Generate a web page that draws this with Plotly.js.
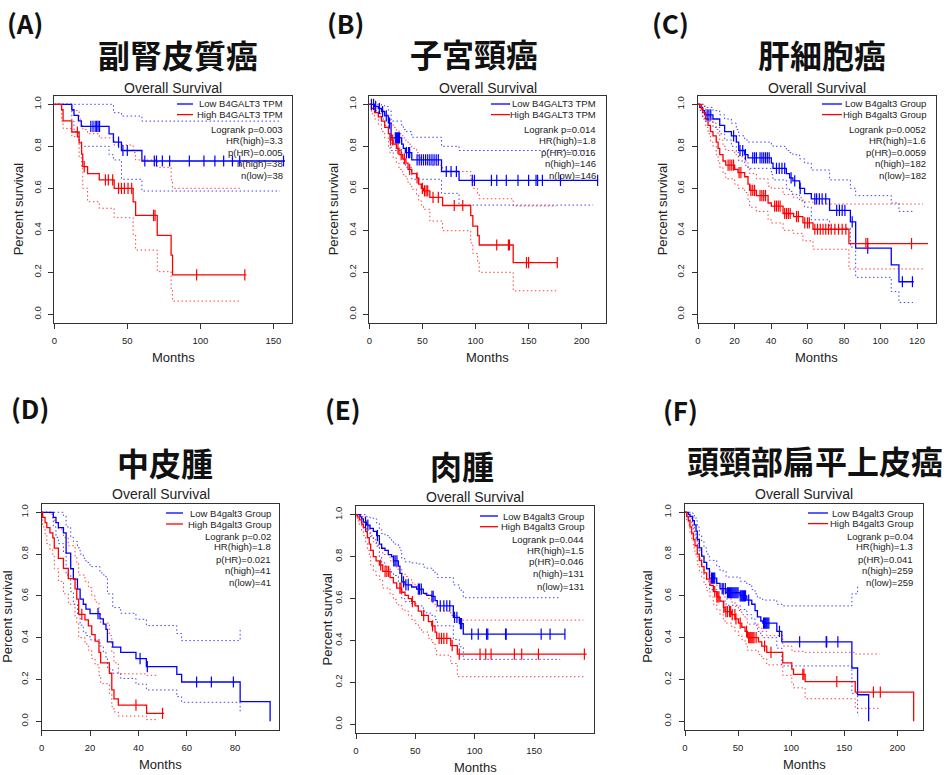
<!DOCTYPE html>
<html><head><meta charset="utf-8">
<script src="https://cdn.plot.ly/plotly-3.0.1.min.js"></script>
<style>html,body{margin:0;padding:0;background:#fff}#chart{width:948px;height:775px}</style>
</head><body><div id="chart"></div>
<script>
// ---------------- DATA ----------------
const Y_ticks = [0, 0.2, 0.4, 0.6, 0.8, 1.0];
const Y_tickText = ['0.0', '0.2', '0.4', '0.6', '0.8', '1.0'];

// (A) 副腎皮質癌
const A_title = '副腎皮質癌';
const A_xticks = [0, 50, 100, 150];
const A_legend = ['Low B4GALT3 TPM', 'High B4GALT3 TPM', 'Logrank p=0.003', 'HR(high)=3.3', 'p(HR)=0.005', 'n(high)=38', 'n(low)=38'];
const A_lowT = [0, 12, 13.5, 16.5, 18.5, 37.5, 40.5, 46, 60, 158];
const A_lowS = [1, 0.974, 0.947, 0.921, 0.895, 0.859, 0.82, 0.78, 0.73, 0.73];
const A_lowUp = [1, 1, 1, 1, 1, 1, 0.96, 0.944, 0.92];
const A_lowLo = [1, 0.92, 0.87, 0.83, 0.80, 0.76, 0.735, 0.643, 0.587];
const A_lowCens = [25, 26.5, 28, 29, 30, 31, 44, 47, 50, 62, 68.5, 70, 74, 79, 92.5, 102.5, 110, 116, 122, 127, 157];
const A_highT = [0, 5, 6, 12, 17, 18.7, 19.5, 22.8, 30.8, 41, 54, 55.7, 70.5, 80, 81, 131.5];
const A_highS = [1, 0.974, 0.921, 0.868, 0.816, 0.763, 0.703, 0.67, 0.64, 0.60, 0.535, 0.471, 0.376, 0.282, 0.188, 0.188];
const A_highUp = [1, 1, 1, 0.97, 0.93, 0.90, 0.88, 0.86, 0.84, 0.806, 0.77, 0.735, 0.70, 0.64, 0.60];
const A_highLo = [1, 0.92, 0.885, 0.846, 0.75, 0.695, 0.60, 0.536, 0.505, 0.46, 0.38, 0.306, 0.203, 0.12, 0.063];
const A_highCens = [15.8, 20.5, 35, 37, 40, 44, 46, 48, 50.5, 53, 68, 69, 97.5, 130.5];
const A_ciEnd = [154.6, 128.3];

// (B) 子宮頸癌
const B_title = '子宮頸癌';
const B_xticks = [0, 50, 100, 150, 200];
const B_legend = ['Low B4GALT3 TPM', 'High B4GALT3 TPM', 'Logrank p=0.014', 'HR(high)=1.8', 'p(HR)=0.016', 'n(high)=146', 'n(low)=146'];
const B_lowT = [0, 5, 8.5, 11.5, 14.5, 18, 20.5, 30.5, 32, 34, 40, 68, 84.5, 215.5];
const B_lowS = [1, 0.99, 0.98, 0.965, 0.945, 0.91, 0.84, 0.81, 0.79, 0.77, 0.735, 0.68, 0.638, 0.638];
const B_lowUp = [1, 1, 1, 0.995, 0.99, 0.97, 0.92, 0.895, 0.88, 0.87, 0.843, 0.80, 0.78];
const B_lowLo = [1, 0.97, 0.955, 0.93, 0.90, 0.86, 0.78, 0.74, 0.72, 0.70, 0.643, 0.576, 0.52];
const B_lowCens = [2, 4, 6, 9.5, 12.5, 16, 19, 24.5, 25.5, 26.5, 27.5, 28.5, 35, 37, 38, 45, 47, 49, 51, 53, 55, 57, 59, 61, 63, 65, 72.5, 77, 82, 97, 99, 115, 120, 129, 140, 150, 157, 158.5, 163, 180, 215];
const B_highT = [0, 2, 5, 8.5, 11.5, 14.5, 18, 19.5, 22.5, 25.5, 28, 31.5, 34.5, 36.5, 40, 44.5, 46.5, 49, 51, 57, 69, 95.5, 97.5, 102, 103.5, 135.5, 177];
const B_highS = [1, 0.98, 0.96, 0.94, 0.92, 0.89, 0.86, 0.83, 0.81, 0.79, 0.76, 0.74, 0.72, 0.69, 0.67, 0.65, 0.62, 0.60, 0.588, 0.557, 0.518, 0.47, 0.42, 0.375, 0.33, 0.246, 0.246];
const B_highUp = [1, 1, 0.99, 0.98, 0.97, 0.95, 0.93, 0.91, 0.89, 0.875, 0.86, 0.84, 0.825, 0.81, 0.79, 0.77, 0.745, 0.73, 0.72, 0.71, 0.68, 0.645, 0.60, 0.575, 0.55, 0.516];
const B_highLo = [1, 0.955, 0.93, 0.905, 0.87, 0.84, 0.80, 0.77, 0.745, 0.72, 0.69, 0.665, 0.645, 0.62, 0.595, 0.57, 0.54, 0.52, 0.50, 0.444, 0.398, 0.34, 0.29, 0.25, 0.20, 0.112];
const B_highCens = [20, 22, 27, 30, 33, 38, 45, 50, 52, 53.5, 55, 60, 65, 80, 88, 120, 131, 132, 148, 150, 177];
const B_ciEnd = [210.7, 176];

// (C) 肝細胞癌
const C_title = '肝細胞癌';
const C_xticks = [0, 20, 40, 60, 80, 100, 120];
const C_legend = ['Low B4galt3 Group', 'High B4galt3 Group', 'Logrank p=0.0052', 'HR(high)=1.6', 'p(HR)=0.0059', 'n(high)=182', 'n(low)=182'];
const C_lowT = [0, 1, 2.5, 3.7, 8.2, 11.9, 14.6, 18.3, 21, 22.3, 25.6, 27.4, 40.2, 41.1, 48.4, 50.2, 52, 55.7, 58.4, 62.1, 72.1, 83.5, 86.4, 105.9, 110.1, 118.2];
const C_lowS = [1, 0.985, 0.97, 0.95, 0.93, 0.90, 0.87, 0.85, 0.82, 0.78, 0.76, 0.745, 0.72, 0.695, 0.67, 0.65, 0.635, 0.60, 0.575, 0.55, 0.495, 0.44, 0.315, 0.235, 0.155, 0.155];
const C_lowUp = [1, 1, 1, 0.985, 0.97, 0.95, 0.93, 0.91, 0.88, 0.85, 0.83, 0.82, 0.81, 0.80, 0.78, 0.77, 0.76, 0.74, 0.72, 0.687, 0.64, 0.60, 0.565, 0.53, 0.49];
const C_lowLo = [1, 0.97, 0.94, 0.92, 0.89, 0.86, 0.83, 0.80, 0.77, 0.73, 0.71, 0.695, 0.665, 0.64, 0.60, 0.585, 0.57, 0.54, 0.51, 0.45, 0.41, 0.32, 0.176, 0.108, 0.056];
const C_lowCens = [5, 6, 7, 19.5, 23, 24.5, 26, 30, 31, 32, 34, 35, 36, 37, 38, 39, 43, 44.5, 46, 47.5, 51, 53, 56, 64, 65, 66.5, 68, 70, 76, 77.5, 79, 80.5, 84.5, 93, 112, 117.5];
const C_highT = [0, 1.8, 2.7, 4.2, 5.5, 6.8, 8.2, 10, 11, 11.9, 13.7, 15.2, 20.1, 21.9, 25.6, 27.4, 28.3, 32, 38.4, 40.2, 46.6, 52.4, 57.5, 63, 82.7, 126];
const C_highS = [1, 0.98, 0.96, 0.93, 0.90, 0.87, 0.85, 0.82, 0.79, 0.76, 0.73, 0.71, 0.69, 0.675, 0.655, 0.62, 0.59, 0.565, 0.53, 0.515, 0.48, 0.465, 0.435, 0.405, 0.337, 0.337];
const C_highUp = [1, 1, 0.99, 0.97, 0.95, 0.93, 0.91, 0.88, 0.86, 0.83, 0.80, 0.78, 0.76, 0.75, 0.73, 0.70, 0.67, 0.645, 0.61, 0.60, 0.57, 0.555, 0.535, 0.525, 0.525];
const C_highLo = [1, 0.96, 0.93, 0.89, 0.86, 0.82, 0.80, 0.76, 0.73, 0.70, 0.67, 0.645, 0.62, 0.60, 0.58, 0.54, 0.51, 0.49, 0.45, 0.435, 0.40, 0.385, 0.35, 0.31, 0.216];
const C_highCens = [16.5, 17.5, 18.5, 19.5, 22.5, 23.5, 29, 30, 31, 34, 35, 36, 37, 42, 43, 44, 45, 47.5, 48.5, 49.5, 50.5, 54, 55, 58.5, 60, 61, 64, 65.5, 67, 68.5, 70, 71.5, 73, 75, 77, 79, 81, 92, 93, 117];
const C_ciEnd = [117.8, 123.3];

// (D) 中皮腫
const D_title = '中皮腫';
const D_xticks = [0, 20, 40, 60, 80];
const D_legend = ['Low B4galt3 Group', 'High B4galt3 Group', 'Logrank p=0.02', 'HR(high)=1.8', 'p(HR)=0.021', 'n(high)=41', 'n(low)=41'];
const D_lowT = [0, 4.8, 5.9, 6.9, 9, 10.1, 12, 13.1, 14.8, 15.9, 17.2, 18.3, 20, 24.1, 25.5, 26.6, 27.2, 29.4, 32.7, 39, 43.3, 55.9, 57.9, 82.1, 94.5];
const D_lowS = [1, 0.976, 0.951, 0.927, 0.902, 0.805, 0.73, 0.68, 0.632, 0.585, 0.56, 0.537, 0.515, 0.49, 0.465, 0.44, 0.38, 0.355, 0.33, 0.30, 0.262, 0.225, 0.188, 0.094, 0];
const D_lowUp = [1, 1, 1, 1, 0.985, 0.93, 0.88, 0.86, 0.83, 0.80, 0.78, 0.76, 0.74, 0.71, 0.70, 0.69, 0.61, 0.544, 0.517, 0.488, 0.458, 0.42, 0.386, 0.45];
const D_lowLo = [1, 0.93, 0.88, 0.85, 0.81, 0.70, 0.62, 0.56, 0.51, 0.46, 0.43, 0.41, 0.39, 0.36, 0.33, 0.30, 0.25, 0.23, 0.205, 0.178, 0.15, 0.118, 0.091, 0.038];
const D_lowCens = [23.3, 40.7, 43.7, 64.1, 70.2, 79.3];
const D_highT = [0, 0.4, 1.4, 2.1, 3.4, 4.6, 5.2, 6.9, 9, 11, 13.8, 14.5, 15.3, 17.9, 19.3, 20.7, 22.1, 23.7, 24.4, 28, 29, 29.9, 31.7, 43.4, 50.6];
const D_highS = [1, 0.976, 0.951, 0.927, 0.902, 0.878, 0.829, 0.78, 0.732, 0.683, 0.634, 0.585, 0.512, 0.485, 0.457, 0.415, 0.384, 0.33, 0.28, 0.23, 0.15, 0.107, 0.077, 0.038, 0.038];
const D_highUp = [1, 1, 1, 1, 0.99, 0.97, 0.95, 0.92, 0.88, 0.84, 0.79, 0.76, 0.70, 0.67, 0.64, 0.60, 0.57, 0.52, 0.47, 0.41, 0.33, 0.28, 0.227, 0.22];
const D_highLo = [1, 0.93, 0.89, 0.85, 0.82, 0.79, 0.73, 0.67, 0.61, 0.56, 0.50, 0.47, 0.40, 0.37, 0.34, 0.30, 0.27, 0.22, 0.18, 0.13, 0.07, 0.045, 0.025, 0.008];
const D_highCens = [16.6, 39, 50];
const D_ciEnd = [82.1, 48];

// (E) 肉腫
const E_title = '肉腫';
const E_xticks = [0, 50, 100, 150];
const E_legend = ['Low B4galt3 Group', 'High B4galt3 Group', 'Logrank p=0.044', 'HR(high)=1.5', 'p(HR)=0.046', 'n(high)=131', 'n(low)=131'];
const E_lowT = [0, 3.4, 4.8, 6.2, 9, 11.8, 14.6, 17.4, 19.7, 21.6, 24.4, 27.2, 30, 31.5, 35.7, 37, 38.5, 41.3, 46.9, 51.1, 56.7, 59.6, 63.8, 66.6, 68.5, 82, 87.1, 90.4, 176];
const E_lowS = [1, 0.99, 0.98, 0.965, 0.95, 0.935, 0.92, 0.90, 0.86, 0.84, 0.83, 0.81, 0.80, 0.78, 0.755, 0.72, 0.68, 0.665, 0.655, 0.645, 0.625, 0.615, 0.61, 0.59, 0.565, 0.51, 0.48, 0.43, 0.43];
const E_lowUp = [1, 1, 1, 1, 0.99, 0.985, 0.98, 0.96, 0.93, 0.91, 0.90, 0.89, 0.875, 0.86, 0.845, 0.83, 0.79, 0.775, 0.77, 0.765, 0.75, 0.745, 0.735, 0.72, 0.70, 0.665, 0.64, 0.604];
const E_lowLo = [1, 0.97, 0.955, 0.935, 0.915, 0.895, 0.88, 0.85, 0.80, 0.77, 0.755, 0.74, 0.725, 0.71, 0.68, 0.65, 0.60, 0.585, 0.575, 0.565, 0.54, 0.53, 0.52, 0.50, 0.47, 0.405, 0.37, 0.31];
const E_lowCens = [8, 10, 18, 31.8, 33, 34.5, 40, 42, 44, 52.5, 53.5, 55, 64, 65, 71, 74, 76.5, 79, 83, 85, 88, 89, 97.5, 103, 110, 111, 126, 126.5, 156, 163.5, 176];
const E_highT = [0, 1.1, 2.8, 4.8, 6.2, 8.1, 9.6, 11.2, 12.4, 14.6, 16.9, 19.7, 22.5, 28.7, 31.5, 34.3, 38.5, 41.3, 44.1, 46.9, 49.7, 52.5, 55.3, 61, 63.8, 66.6, 68, 79.8, 85.4, 194.4];
const E_highS = [1, 0.99, 0.975, 0.955, 0.94, 0.92, 0.89, 0.86, 0.83, 0.80, 0.78, 0.76, 0.73, 0.70, 0.675, 0.65, 0.63, 0.615, 0.60, 0.585, 0.565, 0.54, 0.52, 0.49, 0.47, 0.44, 0.41, 0.375, 0.335, 0.335];
const E_highUp = [1, 1, 1, 0.99, 0.985, 0.97, 0.95, 0.93, 0.90, 0.87, 0.855, 0.84, 0.81, 0.78, 0.76, 0.74, 0.72, 0.705, 0.69, 0.675, 0.66, 0.64, 0.62, 0.60, 0.58, 0.565, 0.54, 0.52, 0.497];
const E_highLo = [1, 0.97, 0.95, 0.92, 0.90, 0.87, 0.83, 0.80, 0.76, 0.73, 0.71, 0.69, 0.65, 0.62, 0.595, 0.57, 0.55, 0.54, 0.52, 0.50, 0.48, 0.46, 0.44, 0.41, 0.39, 0.36, 0.33, 0.29, 0.227];
const E_highCens = [20.8, 24.5, 26, 27.5, 37, 38, 47.5, 57, 64.5, 70, 72, 74, 76.5, 81, 87, 104.5, 109.3, 113.8, 133.4, 139.6, 153.7, 192.4];
const E_ciEnd = [172, 191.6];

// (F) 頭頸部扁平上皮癌
const F_title = '頭頸部扁平上皮癌';
const F_xticks = [0, 50, 100, 150, 200];
const F_legend = ['Low B4galt3 Group', 'High B4galt3 Group', 'Logrank p=0.04', 'HR(high)=1.3', 'p(HR)=0.041', 'n(high)=259', 'n(low)=259'];
const F_lowT = [0, 3.1, 4.7, 7.2, 8.8, 10.4, 11.6, 13.5, 15.7, 17.9, 20.4, 23, 29.9, 33, 38.7, 51.9, 58.2, 62.9, 66, 68.2, 71.4, 73.3, 86.5, 91.2, 157.2, 162.6, 173];
const F_lowS = [1, 0.99, 0.98, 0.96, 0.94, 0.91, 0.87, 0.83, 0.79, 0.76, 0.73, 0.685, 0.66, 0.635, 0.615, 0.60, 0.58, 0.56, 0.53, 0.50, 0.48, 0.47, 0.43, 0.38, 0.255, 0.127, 0];
const F_lowUp = [1, 1, 1, 0.995, 0.98, 0.96, 0.93, 0.89, 0.86, 0.83, 0.80, 0.77, 0.74, 0.72, 0.69, 0.67, 0.655, 0.63, 0.61, 0.59, 0.585, 0.58, 0.56, 0.552, 0.61, 0.652];
const F_lowLo = [1, 0.975, 0.96, 0.93, 0.905, 0.87, 0.83, 0.78, 0.74, 0.70, 0.67, 0.63, 0.60, 0.575, 0.555, 0.535, 0.51, 0.49, 0.46, 0.43, 0.41, 0.40, 0.35, 0.265, 0.134, 0.03];
const F_lowCens = [25, 26, 27, 28, 35, 36, 38, 40, 41, 42, 43, 44, 45, 46, 47, 48, 49, 50, 52, 53, 54, 55, 56, 57, 60, 74, 75, 76, 77, 78, 79, 89, 108, 133, 133.5, 144];
const F_highT = [0, 1.6, 3.1, 4.7, 6.3, 7.9, 9.4, 11.6, 13.5, 15.7, 17.9, 20.4, 23.6, 26.7, 29.9, 33, 36.2, 37.7, 44, 47.2, 50.3, 53.5, 56.6, 58.8, 69.2, 72.3, 77, 92.1, 100.6, 102.2, 113.2, 160.4, 215.4];
const F_highS = [1, 0.98, 0.96, 0.93, 0.90, 0.87, 0.84, 0.80, 0.77, 0.74, 0.71, 0.68, 0.65, 0.62, 0.595, 0.575, 0.545, 0.525, 0.51, 0.49, 0.47, 0.45, 0.43, 0.40, 0.38, 0.36, 0.33, 0.28, 0.25, 0.225, 0.19, 0.14, 0];
const F_highUp = [1, 0.995, 0.99, 0.97, 0.94, 0.91, 0.88, 0.85, 0.82, 0.79, 0.76, 0.73, 0.70, 0.67, 0.65, 0.63, 0.60, 0.585, 0.57, 0.55, 0.53, 0.51, 0.49, 0.465, 0.45, 0.43, 0.41, 0.36, 0.34, 0.335, 0.33, 0.322];
const F_highLo = [1, 0.96, 0.94, 0.90, 0.865, 0.83, 0.80, 0.75, 0.72, 0.69, 0.655, 0.625, 0.595, 0.56, 0.535, 0.51, 0.485, 0.47, 0.45, 0.43, 0.41, 0.39, 0.37, 0.34, 0.32, 0.30, 0.27, 0.22, 0.185, 0.16, 0.108, 0.062];
const F_highCens = [28, 30, 31, 32, 36.5, 38.5, 40, 42, 43, 44.5, 47, 48, 52, 58, 60, 61, 62, 63, 64, 65, 67, 75, 81, 111, 112, 143, 177.5, 184];
const F_ciEnd = [163.5, 183.3];

// ---------------- LAYOUT GEOMETRY (pixels) ----------------
const W = 948, H = 775;
const PX = x => x / W, PY = y => 1 - y / H;
const BLUE = '#0000FF', RED = '#FF0000';
const FONT = 'Liberation Sans, Arial, sans-serif';
const CJK = 'Noto Sans CJK JP, Noto Sans CJK SC, sans-serif';
const ROWS_TOP = [104, 114.6, 129, 140.5, 152, 163.5, 175];

const panels = [
  {letter:'(A)', title:A_title, xticks:A_xticks, legend:A_legend,
   low:{T:A_lowT,S:A_lowS,Up:A_lowUp,Lo:A_lowLo,C:A_lowCens,end:A_ciEnd[0]},
   high:{T:A_highT,S:A_highS,Up:A_highUp,Lo:A_highLo,C:A_highCens,end:A_ciEnd[1]},
   g:{l:54.3,r:292.3,x0:54.3,ppm:1.46,y1:104.3,y0:314.3, lx:25,ly:23, tx:178,ty:54, osy:88, my:357, psx:18,
      legR:285, legL:[177,193], rows:ROWS_TOP}},
  {letter:'(B)', title:B_title, xticks:B_xticks, legend:B_legend,
   low:{T:B_lowT,S:B_lowS,Up:B_lowUp,Lo:B_lowLo,C:B_lowCens,end:B_ciEnd[0]},
   high:{T:B_highT,S:B_highS,Up:B_highUp,Lo:B_highLo,C:B_highCens,end:B_ciEnd[1]},
   g:{l:369.3,r:606,x0:369.3,ppm:1.062,y1:104.3,y0:314.3, lx:345,ly:23, tx:474,ty:53, osy:88, my:357, psx:333,
      legR:598, legL:[491,510], rows:ROWS_TOP}},
  {letter:'(C)', title:C_title, xticks:C_xticks, legend:C_legend,
   low:{T:C_lowT,S:C_lowS,Up:C_lowUp,Lo:C_lowLo,C:C_lowCens,end:C_ciEnd[0]},
   high:{T:C_highT,S:C_highS,Up:C_highUp,Lo:C_highLo,C:C_highCens,end:C_ciEnd[1]},
   g:{l:698,r:935.7,x0:698,ppm:1.825,y1:104.3,y0:314.3, lx:670,ly:23, tx:822,ty:54, osy:88, my:357, psx:662,
      legR:928, legL:[822,842], rows:ROWS_TOP}},
  {letter:'(D)', title:D_title, xticks:D_xticks, legend:D_legend,
   low:{T:D_lowT,S:D_lowS,Up:D_lowUp,Lo:D_lowLo,C:D_lowCens,end:D_ciEnd[0]},
   high:{T:D_highT,S:D_highS,Up:D_highUp,Lo:D_highLo,C:D_highCens,end:D_ciEnd[1]},
   g:{l:41.7,r:279.3,x0:41.7,ppm:2.417,y1:512.3,y0:721.3, lx:30,ly:407, tx:165,ty:462, osy:494, my:764, psx:8,
      legR:273, legL:[166,183], rows:[513,524,536,546.7,559,570,582.3]}},
  {letter:'(E)', title:E_title, xticks:E_xticks, legend:E_legend,
   low:{T:E_lowT,S:E_lowS,Up:E_lowUp,Lo:E_lowLo,C:E_lowCens,end:E_ciEnd[0]},
   high:{T:E_highT,S:E_highS,Up:E_highUp,Lo:E_highLo,C:E_highCens,end:E_ciEnd[1]},
   g:{l:356,r:594,x0:356,ppm:1.187,y1:514.7,y0:724.3, lx:343,ly:408, tx:462,ty:465, osy:497, my:767, psx:327,
      legR:586, legL:[480,498], rows:[516,526.7,539.3,550,561,573.3,586]}},
  {letter:'(F)', title:F_title, xticks:F_xticks, legend:F_legend,
   low:{T:F_lowT,S:F_lowS,Up:F_lowUp,Lo:F_lowLo,C:F_lowCens,end:F_ciEnd[0]},
   high:{T:F_highT,S:F_highS,Up:F_highUp,Lo:F_highLo,C:F_highCens,end:F_ciEnd[1]},
   g:{l:685,r:923.3,x0:685,ppm:1.0615,y1:512.3,y0:721.3, lx:680,ly:409, tx:815,ty:460, osy:494, my:764, psx:648,
      legR:915, legL:[808,828], rows:[513,523.6,536,546.7,559,570,582.3]}}
];

function stepAt(T, S, t) {
  let v = S[0];
  for (let i = 0; i < T.length; i++) { if (T[i] <= t) v = S[i]; else break; }
  return v;
}

const ciTraces = [], curveTraces = [], censTraces = [];
const layout = {
  width: W, height: H, margin: {l:0, r:0, t:0, b:0},
  paper_bgcolor: '#fff', plot_bgcolor: '#fff', showlegend: false, hovermode: false,
  font: {family: FONT, color: '#222'}, shapes: [], annotations: []
};

panels.forEach((p, i) => {
  const k = i + 1, sfx = k === 1 ? '' : String(k);
  const xa = 'x' + sfx, ya = 'y' + sfx;
  const g = p.g;
  const yr = g.y0 - g.y1;
  const top = g.y1 - 0.04 * yr, bot = g.y0 + 0.04 * yr;
  layout['xaxis' + sfx] = {
    domain: [PX(g.l), PX(g.r)], range: [(g.l - g.x0) / g.ppm, (g.r - g.x0) / g.ppm],
    anchor: ya, tickmode: 'array', tickvals: p.xticks, ticks: 'outside', ticklen: 5, tickwidth: 1,
    tickcolor: '#333', showline: true, mirror: true, linecolor: '#333', linewidth: 1,
    showgrid: false, zeroline: false, tickfont: {size: 9.5, color: '#222', family: FONT},
    ticklabelstandoff: 4, fixedrange: true
  };
  layout['yaxis' + sfx] = {
    domain: [PY(bot), PY(top)], range: [-0.04, 1.04], anchor: xa,
    tickmode: 'array', tickvals: Y_ticks, ticktext: Y_tickText, tickangle: -90,
    ticks: 'outside', ticklen: 5, tickwidth: 1, tickcolor: '#333',
    showline: true, mirror: true, linecolor: '#333', linewidth: 1,
    showgrid: false, zeroline: false, tickfont: {size: 9.5, color: '#222', family: FONT},
    ticklabelstandoff: 4, fixedrange: true
  };

  [[p.low, BLUE], [p.high, RED]].forEach(([d, col]) => {
    const ciX = d.T.slice(0, d.T.length - 1).concat([d.end]);
    [d.Up, d.Lo].forEach(arr => {
      ciTraces.push({type:'scatter', mode:'lines', xaxis:xa, yaxis:ya, x: ciX,
        y: arr.concat([arr[arr.length - 1]]), line:{shape:'hv', color: col, width: 1, dash: '1.5px,2.5px'},
        opacity: 0.75});
    });
    curveTraces.push({type:'scatter', mode:'lines', xaxis:xa, yaxis:ya, x: d.T, y: d.S,
      line:{shape:'hv', color: col, width: 1.3}});
    censTraces.push({type:'scatter', mode:'markers', xaxis:xa, yaxis:ya, x: d.C,
      y: d.C.map(t => stepAt(d.T, d.S, t)),
      marker:{symbol:'line-ns', size: 8, color: col, line:{color: col, width: 1.2}}});
  });

  const A = layout.annotations;
  const cx = (g.l + g.r) / 2;
  A.push({xref:'paper', yref:'paper', x: PX(g.lx), y: PY(g.ly), text: '<b>' + p.letter + '</b>', showarrow:false,
    xanchor:'center', yanchor:'middle', font:{family: CJK, size: 26, color:'#111'}});
  A.push({xref:'paper', yref:'paper', x: PX(g.tx), y: PY(g.ty), text: '<b>' + p.title + '</b>', showarrow:false,
    xanchor:'center', yanchor:'middle', font:{family: CJK, size: 32, color:'#111'}});
  A.push({xref:'paper', yref:'paper', x: PX(cx), y: PY(g.osy), text: 'Overall Survival', showarrow:false,
    xanchor:'center', yanchor:'middle', font:{family: FONT, size: 14, color:'#222'}});
  A.push({xref:'paper', yref:'paper', x: PX(cx), y: PY(g.my), text: 'Months', showarrow:false,
    xanchor:'center', yanchor:'middle', font:{family: FONT, size: 13, color:'#222'}});
  A.push({xref:'paper', yref:'paper', x: PX(g.psx), y: PY((top + bot) / 2), text: 'Percent survival', showarrow:false,
    textangle: -90, xanchor:'center', yanchor:'middle', font:{family: FONT, size: 13, color:'#222'}});
  p.legend.forEach((txt, j) => {
    A.push({xref:'paper', yref:'paper', x: PX(g.legR), y: PY(g.rows[j]), text: txt, showarrow:false,
      xanchor:'right', yanchor:'middle', font:{family: FONT, size: 9.5, color:'#222'}});
  });
  [[0, BLUE], [1, RED]].forEach(([j, col]) => {
    layout.shapes.push({type:'line', xref:'paper', yref:'paper', x0: PX(g.legL[0]), x1: PX(g.legL[1]),
      y0: PY(g.rows[j]), y1: PY(g.rows[j]), line:{color: col, width: 1.3}});
  });
});

Plotly.newPlot('chart', ciTraces.concat(curveTraces, censTraces), layout, {displayModeBar:false, staticPlot:true});
</script>
</body></html>
